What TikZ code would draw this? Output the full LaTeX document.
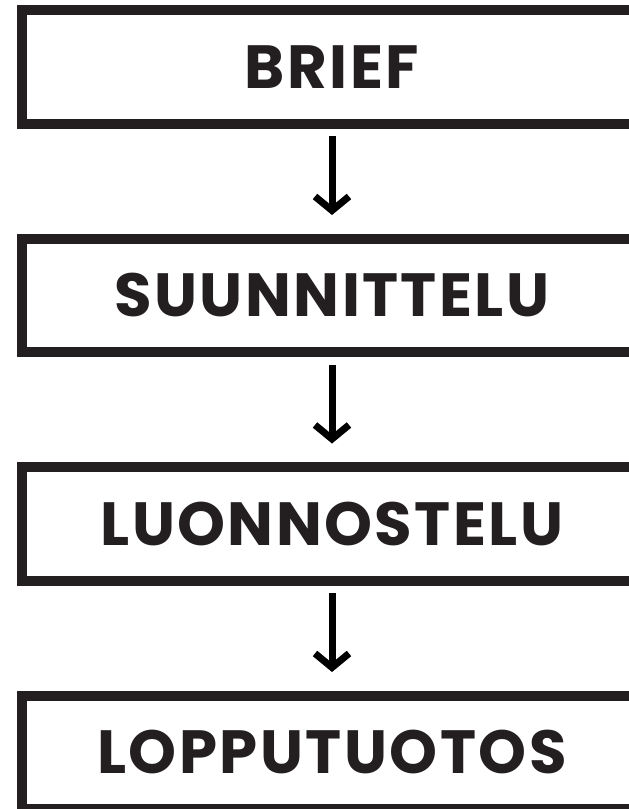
\documentclass[tikz,border=0pt]{standalone}
\usepackage{fontspec}
\setmainfont{Poppins}
\newfontfamily\boxfont[LetterSpace=4]{Poppins}
\usetikzlibrary{arrows.meta, positioning}
\definecolor{inkblack}{HTML}{231F20}
\tikzset{
    block/.style={rectangle, draw=inkblack, line width=10pt, minimum width=620pt, minimum height=113.5pt, inner sep=0pt, text=inkblack, font=\boxfont\fontsize{61}{64}\selectfont\bfseries},
    arrow/.style={line width=7pt, -{Straight Barb[length=14pt, width=34pt]}, shorten <=7.5pt, shorten >=18.5pt}
}

\begin{document}
\begin{tikzpicture}[x=1pt, y=-1pt, node distance=105pt]
            \useasboundingbox (0,0) rectangle (629,809);
            \node[block] (brief) at (332,66.75) {BRIEF};
            \node[block, below=of brief] (suunnittelu) {SUUNNITTELU};
            \node[block, below=of suunnittelu] (luonnostelu) {LUONNOSTELU};
            \node[block, below=of luonnostelu] (lopputuotos) {LOPPUTUOTOS};

            \draw[arrow] (brief) -- (suunnittelu);
            \draw[arrow] (suunnittelu) -- (luonnostelu);
            \draw[arrow] (luonnostelu) -- (lopputuotos);
        \end{tikzpicture}
\end{document}
